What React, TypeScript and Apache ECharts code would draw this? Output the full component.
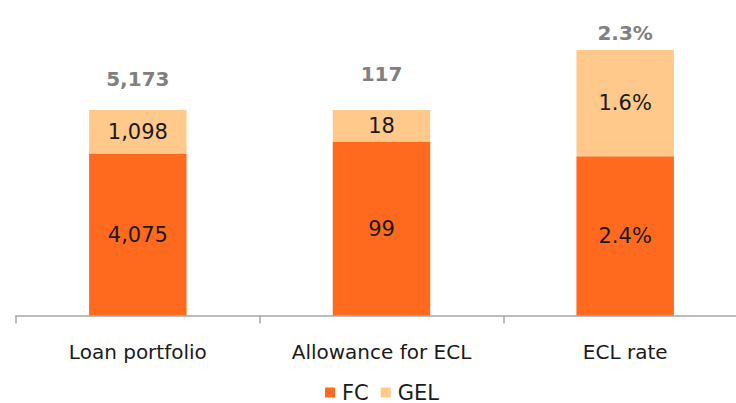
import React, { useEffect, useRef } from "react";
import * as echarts from "echarts";

const categories = ["Loan portfolio", "Allowance for ECL", "ECL rate"];
const fcValues = [4075, 99, 2.4];
const gelValues = [1098, 18, 1.6];
const totalLabels = ["5,173", "117", "2.3%"];
const fcLabels = ["4,075", "99", "2.4%"];
const gelLabels = ["1,098", "18", "1.6%"];
// relative drawn height of each stacked bar (each category has its own scale)
const relHeights = [0.774, 0.774, 1];
const totalDistances = [21, 26, 7];

const FONT = "'DejaVu Sans', sans-serif";

export default function App() {
  const ref = useRef<HTMLDivElement>(null);
  useEffect(() => {
    if (!ref.current) return;
    const chart = echarts.init(ref.current, undefined, { renderer: "svg" });
    const sums = fcValues.map((v, i) => v + gelValues[i]);
    const norm = (v: number, i: number) => (v / sums[i]) * relHeights[i];
    chart.setOption({
      animation: false,
      textStyle: { fontFamily: FONT },
      grid: { left: 16, right: 0, top: 50, height: 265.5, containLabel: false },
      legend: {
        data: ["FC", "GEL"],
        top: 377,
        left: 320,
        itemWidth: 10,
        itemHeight: 10,
        itemGap: 12,
        icon: "rect",
        textStyle: { fontSize: 21, color: "#1a1a1a", fontFamily: FONT, padding: [0, 0, 0, 2] },
      },
      xAxis: {
        type: "category",
        data: categories,
        axisLine: { lineStyle: { color: "#A6A6A6", width: 1.5 } },
        axisTick: { show: true, length: 8, lineStyle: { color: "#A6A6A6", width: 1.5 } },
        axisLabel: { fontSize: 20, color: "#1a1a1a", margin: 26, fontFamily: FONT },
      },
      yAxis: { type: "value", min: 0, max: 1, show: false, splitLine: { show: false } },
      series: [
        {
          name: "FC",
          type: "bar",
          stack: "s",
          barWidth: "40%",
          itemStyle: { color: "#FF6A1F" },
          label: {
            show: true,
            position: "inside",
            fontSize: 21,
            color: "#1a1a1a",
            fontFamily: FONT,
            formatter: (p: any) => fcLabels[p.dataIndex],
          },
          data: fcValues.map((v, i) => norm(v, i)),
        },
        {
          name: "GEL",
          type: "bar",
          stack: "s",
          barWidth: "40%",
          itemStyle: { color: "#FFC98B" },
          label: {
            show: true,
            position: "inside",
            fontSize: 21,
            color: "#1a1a1a",
            fontFamily: FONT,
            formatter: (p: any) => gelLabels[p.dataIndex],
          },
          data: gelValues.map((v, i) => norm(v, i)),
        },
        {
          name: "Total",
          type: "bar",
          stack: "s",
          barWidth: "40%",
          itemStyle: { color: "transparent" },
          data: totalLabels.map((_, i) => ({
            value: 0,
            label: {
              show: true,
              position: "top",
              distance: totalDistances[i],
              fontSize: 20,
              fontWeight: "bold",
              color: "#808080",
              fontFamily: FONT,
              formatter: () => totalLabels[i],
            },
          })),
        },
      ],
    });
    return () => chart.dispose();
  }, []);
  return (
    <div style={{ width: 736, height: 403, position: "absolute", left: 0, top: 0, overflow: "hidden" }}>
      <div ref={ref} style={{ width: 747, height: 403 }} />
    </div>
  );
}
